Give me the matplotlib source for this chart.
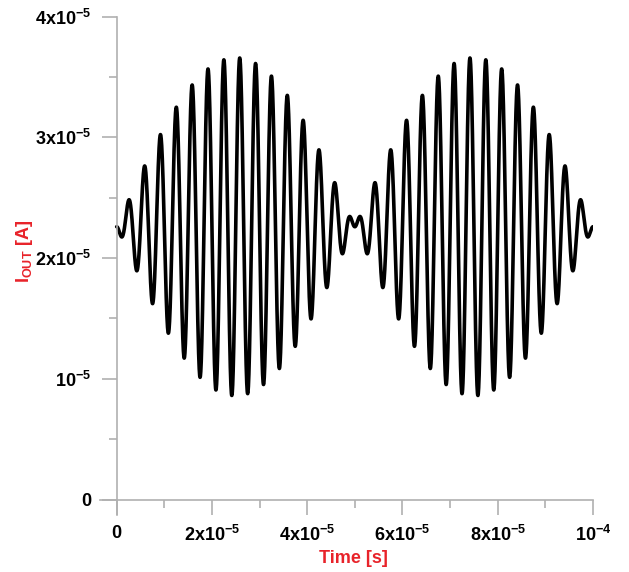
import matplotlib
matplotlib.use("Agg")
import matplotlib.pyplot as plt
import numpy as np
from matplotlib.ticker import FixedLocator, MultipleLocator

plt.rcParams['font.family'] = ['Liberation Sans', 'DejaVu Sans']
plt.rcParams['mathtext.fontset'] = 'custom'
plt.rcParams['mathtext.rm'] = 'Liberation Sans:bold'
plt.rcParams['mathtext.bf'] = 'Liberation Sans:bold'
plt.rcParams['mathtext.it'] = 'Liberation Sans:bold'
plt.rcParams['mathtext.default'] = 'bf'

# signal parameters
i_offset = 2.26e-5      # A, centre level
i_amp = 1.40e-5         # A, peak envelope
f_mod = 10e3            # Hz, envelope (zeros at 0, 5e-5, 1e-4 s)
f_carrier = 300e3       # Hz, 15 cycles per lobe
t_end = 1e-4

x_ticks = [0, 2e-5, 4e-5, 6e-5, 8e-5, 1e-4]
x_labels = ['0', r'2x10$^{-5}$', r'4x10$^{-5}$', r'6x10$^{-5}$', r'8x10$^{-5}$', r'10$^{-4}$']
y_ticks = [0, 1e-5, 2e-5, 3e-5, 4e-5]
y_labels = ['0', r'10$^{-5}$', r'2x10$^{-5}$', r'3x10$^{-5}$', r'4x10$^{-5}$']

t = np.linspace(0, t_end, 4000)
i_out = i_offset - i_amp * np.sin(2 * np.pi * f_mod * t) * np.sin(2 * np.pi * f_carrier * t)

fig = plt.figure(figsize=(6.29, 5.72), dpi=100)
ax = fig.add_axes([100 / 629, 57 / 572, 493 / 629, (515 - 16.7) / 572])

ax.plot(t, i_out, color='black', lw=2.6, solid_capstyle='round')

x_min, y_min = -3.5e-6, -1.28e-6
ax.set_xlim(x_min, t_end)
ax.set_ylim(y_min, 4e-5)

for side in ['top', 'right']:
    ax.spines[side].set_visible(False)
ax.spines['left'].set_position(('data', 0))
ax.spines['bottom'].set_position(('data', 0))
ax.spines['left'].set_bounds(y_min, 4e-5)
ax.spines['bottom'].set_bounds(x_min, t_end)
for side in ['left', 'bottom']:
    ax.spines[side].set_color('#b0b0b0')
    ax.spines[side].set_linewidth(1.2)

ax.xaxis.set_major_locator(FixedLocator(x_ticks))
ax.set_xticklabels(x_labels)
ax.yaxis.set_major_locator(FixedLocator(y_ticks))
ax.set_yticklabels(y_labels)
ax.xaxis.set_minor_locator(MultipleLocator(1e-5))
ax.yaxis.set_minor_locator(MultipleLocator(0.5e-5))

ax.tick_params(which='major', direction='out', length=11, width=1.2, color='#b0b0b0',
               labelsize=13, pad=7)
ax.tick_params(which='minor', direction='out', length=5.5, width=1.2, color='#b0b0b0')
for lab in ax.get_xticklabels() + ax.get_yticklabels():
    lab.set_fontweight('bold')

red = '#e8232a'
ax.set_xlabel('Time [s]', color=red, fontsize=13, fontweight='bold')
ax.set_ylabel(r'I$_{OUT}$ [A]', color=red, fontsize=13, fontweight='bold')
ax.xaxis.set_label_coords(0.515, -0.07)
ax.yaxis.set_label_coords(-0.132, 0.53)

fig.savefig('out.png', dpi=100)
